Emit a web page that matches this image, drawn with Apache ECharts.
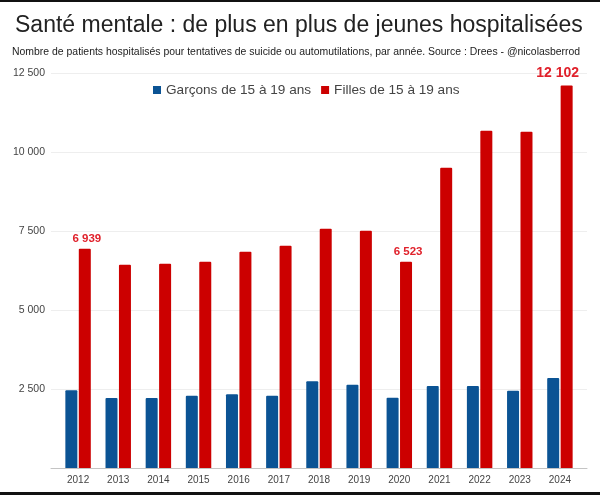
<!DOCTYPE html>
<html>
<head>
<meta charset="utf-8">
<style>
html, body { margin: 0; padding: 0; background: #fff; }
#frame { position: relative; width: 600px; height: 495px; overflow: hidden; }
#main { width: 600px; height: 495px; }
.edge { position: absolute; left: 0; width: 600px; background: #111; }
</style>
<script src="https://cdn.jsdelivr.net/npm/echarts@6/dist/echarts.min.js"></script>
</head>
<body>
<div id="frame">
    <div id="main"></div>
    <div class="edge" style="top:0;height:2px"></div>
    <div class="edge" style="bottom:0;height:3px"></div>
</div>
<script>
var years = ['2012', '2013', '2014', '2015', '2016', '2017', '2018', '2019', '2020', '2021', '2022', '2023', '2024'];
var garcons = [2458, 2216, 2216, 2290, 2332, 2290, 2742, 2637, 2227, 2595, 2595, 2447, 2847];
var filles = [6939, 6433, 6465, 6528, 6845, 7035, 7570, 7510, 6523, 9500, 10670, 10640, 12102];
var yTicks = [2500, 5000, 7500, 10000, 12500];
var labelledYears = ['2012', '2020', '2024'];

var FONT = '"Liberation Sans", Arial, sans-serif';

function spaced(v) {
    return String(v).replace(/\B(?=(\d{3})+$)/g, ' ');
}

// seules quelques barres portent une etiquette
var fillesData = [];
for (var i = 0; i < years.length; i++) {
    var big = years[i] === '2024';
    fillesData[fillesData.length] = {
        value: filles[i],
        label: {
            show: labelledYears.indexOf(years[i]) >= 0,
            position: 'top',
            distance: big ? 5 : 4,
            offset: big ? [-9, 0] : [2, 0],
            formatter: spaced(filles[i]),
            color: '#e0212b',
            fontFamily: FONT,
            fontWeight: 'bold',
            fontSize: big ? 14 : 11.5
        }
    };
}

var option = {
    animation: false,
    backgroundColor: '#fff',
    title: [{
        text: 'Santé mentale : de plus en plus de jeunes hospitalisées',
        left: 10,
        top: 9,
        textStyle: { fontFamily: FONT, fontWeight: 'normal', fontSize: 23, color: '#222' }
    }, {
        text: 'Nombre de patients hospitalisés pour tentatives de suicide ou automutilations, par année. Source : Drees - @nicolasberrod',
        left: 7,
        top: 42,
        textStyle: { fontFamily: FONT, fontWeight: 'normal', fontSize: 10.45, color: '#222' }
    }],
    legend: {
        data: ['Garçons de 15 à 19 ans', 'Filles de 15 à 19 ans'],
        left: 148,
        top: 78,
        icon: 'rect',
        itemWidth: 8,
        itemHeight: 8,
        itemGap: 10,
        textStyle: { fontFamily: FONT, fontSize: 13.6, color: '#444' }
    },
    // grille 0 : barres, grille 1 : axes et lignes, plus large que les barres
    grid: [
        { left: 58, width: 522, top: 73, height: 395 },
        { left: 51, width: 536, top: 73, height: 395 }
    ],
    xAxis: [{
        gridIndex: 0,
        type: 'category',
        data: years,
        axisLine: { show: false },
        axisTick: { show: false },
        axisLabel: { fontFamily: FONT, fontSize: 10, color: '#444', margin: 7, interval: 0 }
    }, {
        gridIndex: 1,
        type: 'category',
        data: [],
        axisLine: { show: true, lineStyle: { color: '#c4c4c4', width: 1 } },
        axisTick: { show: false },
        axisLabel: { show: false }
    }],
    yAxis: [{
        gridIndex: 0,
        type: 'value',
        min: 0,
        max: 12500,
        interval: 2500,
        axisLine: { show: false },
        axisTick: { show: false },
        axisLabel: { show: false },
        splitLine: { show: false }
    }, {
        gridIndex: 1,
        type: 'value',
        min: 0,
        max: 12500,
        interval: 2500,
        axisLine: { show: false },
        axisTick: { show: false },
        axisLabel: {
            fontFamily: FONT,
            fontSize: 10.5,
            color: '#444',
            margin: 6,
            formatter: function (v) {
                return yTicks.indexOf(v) >= 0 ? spaced(v) : '';
            }
        },
        splitLine: { show: true, lineStyle: { color: '#eeeeee', width: 1 } }
    }],
    series: [{
        name: 'Garçons de 15 à 19 ans',
        type: 'bar',
        xAxisIndex: 0,
        yAxisIndex: 0,
        data: garcons,
        barWidth: 12,
        barGap: '12%',
        itemStyle: { color: '#0b5394', borderRadius: [1, 1, 0, 0] }
    }, {
        name: 'Filles de 15 à 19 ans',
        type: 'bar',
        xAxisIndex: 0,
        yAxisIndex: 0,
        data: fillesData,
        barWidth: 12,
        barGap: '12%',
        itemStyle: { color: '#cc0000', borderRadius: [1, 1, 0, 0] }
    }]
};

var echart = echarts.init(document.getElementById('main'));
echart.setOption(option, true);
</script>
</body>
</html>
